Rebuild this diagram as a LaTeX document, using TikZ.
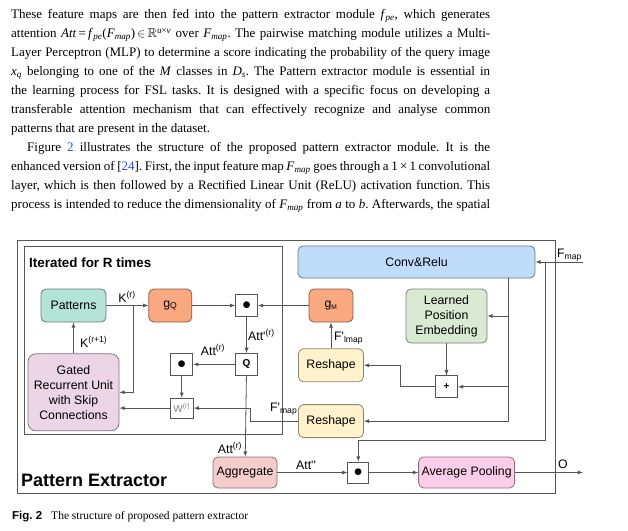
\documentclass[tikz,border=0pt]{standalone}
\usepackage{fontspec}
\usepackage{amssymb}
\setmainfont{Liberation Serif}
\setsansfont{Liberation Sans}
\usetikzlibrary{shapes,arrows,positioning}

\definecolor{linegray}{RGB}{85,85,85}
\definecolor{patfill}{RGB}{180,228,215}
\definecolor{gfill}{RGB}{249,168,128}
\definecolor{convfill}{RGB}{191,221,250}
\definecolor{lpefill}{RGB}{217,234,211}
\definecolor{shapefill}{RGB}{255,242,204}
\definecolor{grufill}{RGB}{236,214,230}
\definecolor{aggfill}{RGB}{244,204,204}
\definecolor{poolfill}{RGB}{252,205,232}
\definecolor{refblue}{RGB}{40,80,210}

\newcommand{\Fm}{\textit{F}\textsubscript{\textit{map}}}
\newcommand{\fpe}{\textit{f}\textsubscript{\textit{pe}}}
\newcommand{\tq}{\textquotesingle}
\newcommand{\bigdot}{{\fontsize{16}{16}\selectfont$\bullet$}}

\begin{document}
\frenchspacing
\begin{tikzpicture}[x=1pt,y=-1pt]
    \tikzset{
        block/.style = {rectangle, draw=#1!55!black, fill=#1, line width=0.8pt, rounded corners=5pt, align=center, inner sep=1pt, font=\sffamily\fontsize{12.3}{15}\selectfont},
        op/.style = {rectangle, draw=linegray, fill=white, line width=0.8pt, minimum size=22pt, inner sep=0pt},
        line/.style = {draw=linegray, line width=0.8pt, -latex},
        lbl/.style = {inner sep=1pt, font=\sffamily\fontsize{12.3}{14}\selectfont},
        frame/.style = {draw=linegray, line width=0.8pt},
    }
    \useasboundingbox (0,0) rectangle (628,530);

    % text above the figure
    \node[anchor=north west, inner sep=0pt, align=left, font=\fontsize{13}{19}\selectfont](para) at (11,9){%
        \makebox[479pt][s]{These feature maps are then fed into the pattern extractor module \fpe, which generates}\\
        \makebox[479pt][s]{attention \textit{Att}\,=\,\fpe(\Fm)\,$\in$\,$\mathbb{R}$\textsuperscript{\textit{u}×\textit{v}} over \Fm. The pairwise matching module utilizes a Multi-}\\
        \makebox[479pt][s]{Layer Perceptron (MLP) to determine a score indicating the probability of the query image}\\
        \makebox[479pt][s]{\textit{x}\textsubscript{\textit{q}} belonging to one of the \textit{M} classes in \textit{D}\textsubscript{\textit{s}}. The Pattern extractor module is essential in}\\
        \makebox[479pt][s]{the learning process for FSL tasks. It is designed with a specific focus on developing a}\\
        \makebox[479pt][s]{transferable attention mechanism that can effectively recognize and analyse common}\\
        patterns that are present in the dataset.\\
        \makebox[479pt][s]{\hspace*{16pt}Figure \textcolor{refblue}{2} illustrates the structure of the proposed pattern extractor module. It is the}\\
        \makebox[479pt][s]{enhanced version of [\textcolor{refblue}{24}]. First, the input feature map \Fm{} goes through a 1\,×\,1 convolutional}\\
        \makebox[479pt][s]{layer, which is then followed by a Rectified Linear Unit (ReLU) activation function. This}\\
        \makebox[479pt][s]{process is intended to reduce the dimensionality of \Fm{} from \textit{a} to \textit{b}. Afterwards, the spatial}};

    % frames
    \draw[frame] (17,240) rectangle (555,493);
    \draw[frame] (24,246) rectangle (282,434);
    \node[anchor=west, inner sep=0pt, font=\sffamily\bfseries\fontsize{13.4}{15}\selectfont](iter) at (29,263){Iterated for R times};
    \node[anchor=west, inner sep=0pt, font=\sffamily\bfseries\fontsize{18}{20}\selectfont](pe) at (21,480){Pattern Extractor};

    % blocks
    \node[block=patfill, minimum width=65pt, minimum height=33pt](patterns) at (73.5,305.5){Patterns};
    \node[block=gfill, minimum width=43pt, minimum height=33pt](gq)[right = 42pt of patterns]{g\textsubscript{Q}};
    \node[op](dota)[right = 43pt of gq]{\bigdot};
    \node[block=gfill, minimum width=44pt, minimum height=33pt](gm) at (331,305.5){g{\fontsize{9.5}{10}\selectfont\textsubscript{M}}};
    \node[block=convfill, minimum width=237pt, minimum height=32pt](conv) at (416.5,262){Conv\&Relu};
    \node[block=lpefill, minimum width=81pt, minimum height=54pt](lpe) at (446.5,316){Learned\\Position\\Embedding};
    \node[op](plus)[below = 32pt of lpe]{\sffamily\bfseries +};
    \node[block=shapefill, minimum width=65pt, minimum height=33pt](reshapea)[below = 26pt of gm]{Reshape};
    \node[block=shapefill, minimum width=65pt, minimum height=33pt](reshapeb)[below = 22pt of reshapea]{Reshape};
    \node[op](qbox)[below = 36pt of dota]{\sffamily\bfseries Q};
    \node[op](dotb)[left = 42pt of qbox]{\bigdot};
    \node[op, minimum size=20pt, minimum width=23pt, text=gray, font=\sffamily\fontsize{10}{11}\selectfont](wbox)[below = 22pt of dotb]{W\textsuperscript{(r)}};
    \node[block=grufill, minimum width=91pt, minimum height=77pt, rounded corners=8pt](gru)[below = 31pt of patterns]{Gated\\Recurrent Unit\\with Skip\\Connections};
    \node[block=aggfill, minimum width=64pt, minimum height=31pt](aggr) at (245,472.5){Aggregate};
    \node[op, minimum size=21pt](dotc)[right = 70pt of aggr]{\bigdot};
    \node[block=poolfill, minimum width=96pt, minimum height=31pt](pool)[right = 49pt of dotc]{Average Pooling};

    \coordinate (fmapin) at (583,262);
    \coordinate (fmapfork) at (545,262);
    \coordinate (kfork) at (133,305.5);
    \coordinate (convout) at (508,278);
    \coordinate (out) at (583,472.5);

    % connectors
    \path [line] (patterns) -- (gq);
    \path [line] (gq) -- (dota);
    \path [line] (gm) -- (dota);
    \path [line] (dota) -- (qbox);
    \path [line] (qbox) -- (dotb);
    \path [line] (dotb) -- (wbox);
    \path [line] (wbox.west) -- (wbox.west -| gru.east);
    \path [line] (kfork) |- (gru.east);
    \path [line] (gru) -- (patterns);
    \path [line] (reshapea) -- (gm);
    \path [line] (fmapin) -- (conv.east);
    \path [line] (fmapfork) -- ++(0,178) -| (dotc.north);
    \path [line] (convout) |- (reshapeb.east);
    \path [line] (convout |- lpe.east) -- (lpe.east);
    \path [line] (convout |- plus.east) -- (plus.east);
    \path [line] (lpe) -- (plus);
    \path [line] (plus.west) -- ++(-35,0) |- (reshapea.east);
    \path [line] (reshapeb.west) -- ++(-48,0) |- (wbox.east);
    \path [line] (qbox) -- (aggr);
    \path [line] (aggr) -- (dotc);
    \path [line] (dotc) -- (pool);
    \path [line] (pool) -- (out);

    % labels
    \node[lbl](lk) at (127,297){K\textsuperscript{(r)}};
    \node[lbl, anchor=west](lk1) at (79,342){K\textsuperscript{(r+1)}};
    \node[lbl, anchor=west](latt1) at (247,335){Att\tq\textsuperscript{(r)}};
    \node[lbl](latt2) at (213,350){Att\textsuperscript{(r)}};
    \node[lbl, anchor=west](lflmap) at (333,338){F\tq\textsubscript{lmap}};
    \node[lbl, anchor=east](lfmapb) at (298.5,409){F\tq\textsubscript{map}};
    \node[lbl, anchor=west](lfmap) at (556,255){F\textsubscript{map}};
    \node[lbl](latt3) at (230,448){Att\textsuperscript{(r)}};
    \node[lbl](latt4) at (306,465){Att\tq\tq};
    \node[lbl](lo) at (563,464){O};

    % caption
    \node[anchor=west, inner sep=0pt, font=\fontsize{11.5}{13}\selectfont](caption) at (12,517){{\sffamily\bfseries Fig. 2}\hspace{9pt}The structure of proposed pattern extractor};
\end{tikzpicture}
\end{document}
